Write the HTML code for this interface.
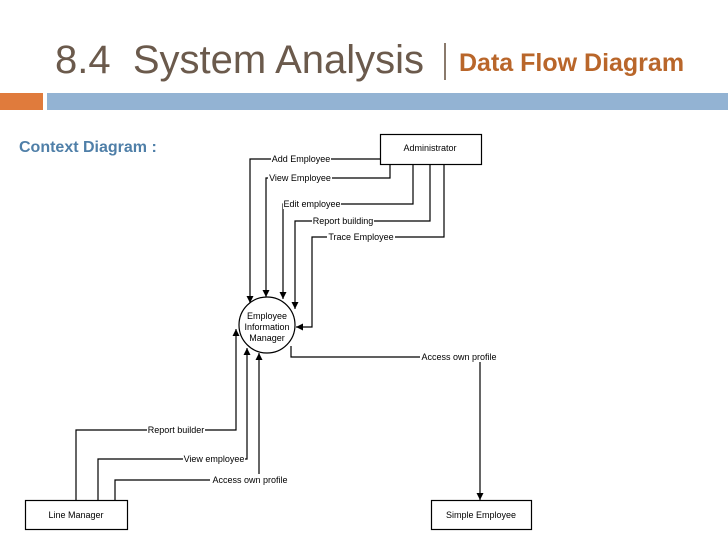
<!DOCTYPE html>
<html><head><meta charset="utf-8"><style>
html,body{margin:0;padding:0;background:#fff;}
body{width:728px;height:546px;overflow:hidden;position:relative;font-family:"Liberation Sans",sans-serif;}
.t1{position:absolute;left:55px;top:40px;font-size:40px;line-height:1;color:#6b5a4c;white-space:nowrap}
.bar{position:absolute;left:444px;top:43px;width:2px;height:37px;background:#8a7a6c}
.t2{position:absolute;left:459px;top:51px;font-size:25px;line-height:1;font-weight:bold;color:#b9662a;white-space:nowrap}
.ob{position:absolute;left:0;top:93px;width:43px;height:17px;background:#e07b3c}
.bb{position:absolute;left:47px;top:93px;width:681px;height:17px;background:#93b3d3}
.cd{position:absolute;left:19px;top:139px;font-size:16px;font-weight:bold;color:#4f7fa8}
</style></head><body>
<div class="t1">8.4&nbsp; System Analysis</div>
<div class="bar"></div>
<div class="t2">Data Flow Diagram</div>
<div class="ob"></div><div class="bb"></div>
<div class="cd">Context Diagram :</div>
<svg width="728" height="546" style="position:absolute;left:0;top:0" font-family="Liberation Sans, sans-serif" font-size="9">
<defs><marker id="a" markerWidth="8" markerHeight="8" refX="7" refY="4" orient="auto" markerUnits="userSpaceOnUse"><path d="M0,0.5 L7,4 L0,7.5z" fill="#000"/></marker></defs>
<g stroke="#000" stroke-width="1.2" fill="none">
<rect x="380.5" y="134.5" width="101" height="30"/>
<rect x="25.5" y="500.5" width="102" height="29"/>
<rect x="431.5" y="500.5" width="100" height="29"/>
<ellipse cx="267" cy="325" rx="28" ry="28"/>
<polyline points="380,159 250,159 250,303" marker-end="url(#a)"/>
<polyline points="390,164 390,178 266,178 266,297" marker-end="url(#a)"/>
<polyline points="413,164 413,204 283,204 283,299" marker-end="url(#a)"/>
<polyline points="430,164 430,221 295,221 295,309" marker-end="url(#a)"/>
<polyline points="444,164 444,237 312,237 312,327 296,327" marker-end="url(#a)"/>
<polyline points="291,346 291,357 480,357 480,500" marker-end="url(#a)"/>
<polyline points="76,500 76,430 236,430 236,329" marker-end="url(#a)"/>
<polyline points="98,500 98,459 247,459 247,348" marker-end="url(#a)"/>
<polyline points="115,500 115,480 259,480 259,353" marker-end="url(#a)"/>
</g>
<g fill="#000">
<text x="430" y="151" text-anchor="middle">Administrator</text>
<text x="76" y="518" text-anchor="middle">Line Manager</text>
<text x="481" y="518" text-anchor="middle">Simple Employee</text>
<text x="267" y="319" text-anchor="middle">Employee</text>
<text x="267" y="330" text-anchor="middle">Information</text>
<text x="267" y="341" text-anchor="middle">Manager</text>
</g>
<g fill="#000">
<rect x="271" y="153" width="60" height="11" fill="#fff"/><text x="301" y="162" text-anchor="middle">Add Employee</text>
<rect x="268" y="172" width="64" height="11" fill="#fff"/><text x="300" y="181" text-anchor="middle">View Employee</text>
<rect x="283" y="198" width="58" height="11" fill="#fff"/><text x="312" y="207" text-anchor="middle">Edit employee</text>
<rect x="312" y="215" width="62" height="11" fill="#fff"/><text x="343" y="224" text-anchor="middle">Report building</text>
<rect x="327" y="231" width="68" height="11" fill="#fff"/><text x="361" y="240" text-anchor="middle">Trace Employee</text>
<rect x="420" y="351" width="78" height="11" fill="#fff"/><text x="459" y="360" text-anchor="middle">Access own profile</text>
<rect x="147" y="424" width="58" height="11" fill="#fff"/><text x="176" y="433" text-anchor="middle">Report builder</text>
<rect x="183" y="453" width="62" height="11" fill="#fff"/><text x="214" y="462" text-anchor="middle">View employee</text>
<rect x="210" y="474" width="80" height="11" fill="#fff"/><text x="250" y="483" text-anchor="middle">Access own profile</text>
</g>
</svg>
</body></html>
